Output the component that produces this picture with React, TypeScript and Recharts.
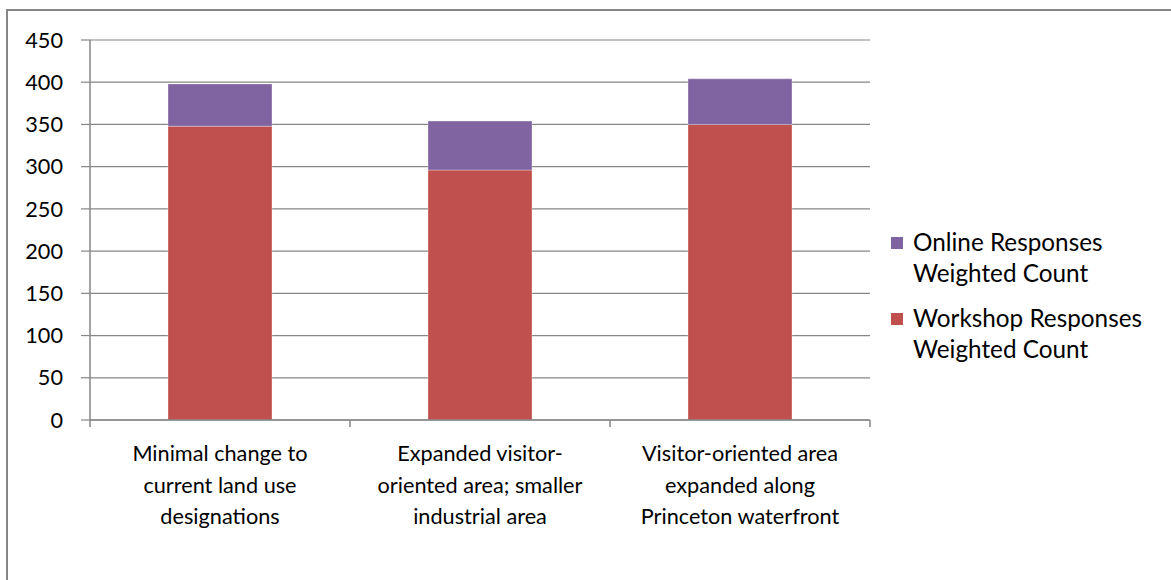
import React from "react";
import { BarChart, Bar, XAxis, YAxis, CartesianGrid, Legend } from "recharts";

const categories = [
  "Minimal change to current land use designations",
  "Expanded visitor-oriented area; smaller industrial area",
  "Visitor-oriented area expanded along Princeton waterfront",
];
const categoryLabelLines = [
  ["Minimal change to", "current land use", "designations"],
  ["Expanded visitor-", "oriented area; smaller", "industrial area"],
  ["Visitor-oriented area", "expanded along", "Princeton waterfront"],
];
const workshopValues = [348, 296, 350];
const onlineValues = [50, 58, 54];
const yTicks = [0, 50, 100, 150, 200, 250, 300, 350, 400, 450];

const seriesNames = {
  workshop: "Workshop Responses Weighted Count",
  online: "Online Responses Weighted Count",
};
const legendLines = {
  online: ["Online Responses", "Weighted Count"],
  workshop: ["Workshop Responses", "Weighted Count"],
};

const RED = "#C0504D";
const PURPLE = "#8064A2";
const GRID = "#868686";
const FONT = "Lato, 'Open Sans', sans-serif";
const FS = 21.7;
const LFS = 24.3;

const data = categories.map((c, i) => ({
  name: c,
  workshop: workshopValues[i],
  online: onlineValues[i],
  idx: i,
}));

const XTick = (props: any) => {
  const { x, y, payload } = props;
  const half = payload.offset || 0;
  const lines = categoryLabelLines[payload.index] || [String(payload.value)];
  const axisY = y - 8;
  return (
    <g>
      <line x1={x - half} x2={x - half} y1={axisY} y2={axisY + 7} stroke={GRID} strokeWidth={1.5} />
      {payload.index === categories.length - 1 && (
        <line x1={x + half} x2={x + half} y1={axisY} y2={axisY + 7} stroke={GRID} strokeWidth={1.5} />
      )}
      <text x={x} y={axisY} textAnchor="middle" fontFamily={FONT} fontSize={FS} fill="#000">
        {lines.map((l: string, i: number) => (
          <tspan key={i} x={x} y={axisY + 41 + i * 31.5}>
            {l}
          </tspan>
        ))}
      </text>
    </g>
  );
};

const LegendContent = () => {
  const items = [
    { key: "online", color: PURPLE },
    { key: "workshop", color: RED },
  ];
  return (
    <div style={{ fontFamily: FONT, fontSize: LFS, color: "#000" }}>
      {items.map((it, i) => (
        <div key={it.key} style={{ position: "relative", height: 31 * 2, marginBottom: i === 0 ? 14 : 0 }}>
          <div
            style={{
              position: "absolute",
              left: 0,
              top: 11,
              width: 12,
              height: 12,
              background: it.color,
            }}
          />
          <div style={{ position: "absolute", left: 22, top: 0, lineHeight: "31px", whiteSpace: "nowrap" }}>
            {(legendLines as any)[it.key].map((l: string, j: number) => (
              <div key={j}>{l}</div>
            ))}
          </div>
        </div>
      ))}
    </div>
  );
};

export default function App() {
  return (
    <div style={{ position: "absolute", left: 0, top: 0, width: 1171, height: 580, background: "#fff", overflow: "hidden" }}>
      <div
        style={{
          position: "absolute",
          left: 6,
          top: 9,
          width: 1200,
          height: 600,
          borderTop: `2px solid ${GRID}`,
          borderLeft: `2px solid ${GRID}`,
        }}
      />
      <div style={{ position: "absolute", left: 0, top: 0 }}>
        <BarChart
          width={1171}
          height={580}
          data={data}
          margin={{ top: 40, right: 301, bottom: 60, left: 0 }}
          barCategoryGap="30%"
        >
          <CartesianGrid vertical={false} stroke={GRID} strokeWidth={1.2} />
          <XAxis
            dataKey="name"
            height={100}
            axisLine={{ stroke: GRID, strokeWidth: 1.5 }}
            tickLine={false}
            tickSize={8}
            tickMargin={0}
            tick={<XTick />}
            interval={0}
          />
          <YAxis
            width={90}
            domain={[0, 450]}
            ticks={yTicks}
            interval={0}
            axisLine={{ stroke: GRID, strokeWidth: 1.5 }}
            tickLine={{ stroke: GRID, strokeWidth: 1.2 }}
            tickSize={9}
            tickMargin={18}
            tick={{ fontFamily: FONT, fontSize: FS, fill: "#000" }}
          />
          <Legend
            layout="horizontal"
            verticalAlign="middle"
            align="center"
            content={<LegendContent />}
            wrapperStyle={{ left: 891, top: 226, width: 280, height: 150 }}
          />
          <Bar
            dataKey="workshop"
            name={seriesNames.workshop}
            stackId="a"
            fill={RED}
            stroke="rgba(255,255,255,0.3)"
            isAnimationActive={false}
          />
          <Bar
            dataKey="online"
            name={seriesNames.online}
            stackId="a"
            fill={PURPLE}
            stroke="rgba(255,255,255,0.3)"
            isAnimationActive={false}
          />
        </BarChart>
      </div>
    </div>
  );
}
